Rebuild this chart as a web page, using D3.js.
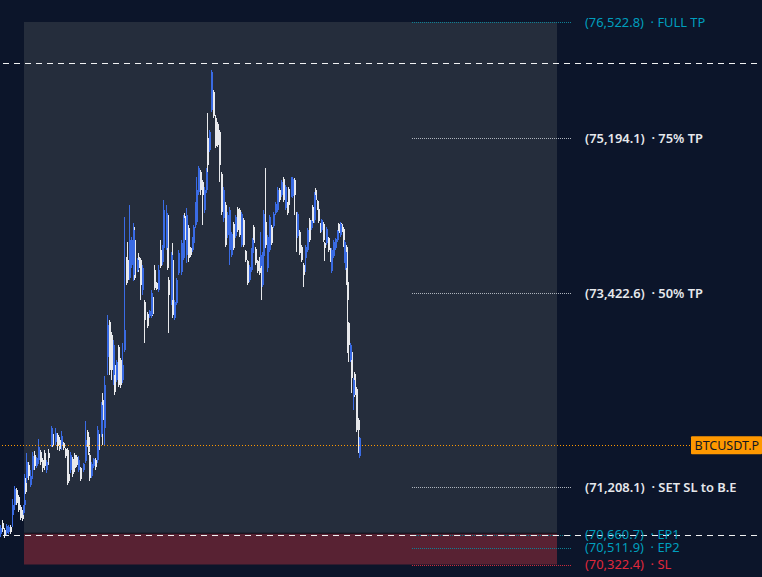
<!DOCTYPE html>
<html>
<head>
<meta charset="utf-8">
<script src="https://cdn.jsdelivr.net/npm/d3@7/dist/d3.min.js"></script>
<style>
html, body { margin: 0; padding: 0; background: #0c152a; overflow: hidden; }
#chart { width: 762px; height: 577px; }
text { font-family: "Noto Sans", sans-serif; }
</style>
</head>
<body>
<div id="chart"></div>
<script>
// minutes since the left edge of the window
var barMinute = [0,6,12,18,24,30,36,42,48,54,60,66,69,72,75,78,84,90,96,102,108,114,120,126,132,138,144,153,156,165,171,177,183,189,195,201,204,210,216,222,228,234,240,249,255,261,264,267,273,279,285,291,294,303,306,312,321,327,333,339,342,348,354,360,366,372,378,381,387,393,399,402,411,414,420,426,432,441,447,453,456,462,468,474,480,486,489,498,501,504,513,516,522,528,534,543,549,552,558,564,570,576,579,585,588,594,600,606,612,618,621,627,633,639,645,651,657,663,669,675,681,687,693,699,705,711,717,723,729,735,741,747,753,756,759,765,771,777,780,783,786,789,795,801,807,813,819,825,831,837,843,849,855,861,864,873,876,882,888,891,897,903,909,915,921,927,933,936,942,945,951,954,960,963,969,972,978,984,990,993,999,1005,1011,1014,1020,1023,1029,1032,1035,1038,1041,1044,1050,1053,1059,1062,1068,1074,1077];

var barHigh = [70769,70826,70735,70780,70769,70769,71066,71215,71192,71112,70998,70941,70998,71352,71306,71593,71490,71398,71604,71616,71547,71753,71627,71535,71627,71513,71638,71902,71833,71879,71822,71776,71845,71718,71650,71650,71364,71604,71547,71593,71570,71558,71433,71478,71959,71856,71799,71593,71490,71535,71535,71902,71833,72176,72279,72474,73171,73114,72977,72885,72634,72657,72828,72680,72851,74293,73835,74007,74430,74064,74224,74178,73823,73881,73823,73743,73343,73206,73229,73457,73400,73743,73549,73743,74029,73972,74487,74430,74338,73606,73892,73995,73343,73595,73915,74029,74315,74338,74395,74201,73949,74064,74201,74464,74750,74876,74830,74716,74636,74853,75482,75288,75974,75745,75459,75379,75288,74807,74636,74464,74350,74407,74121,74235,74315,74407,74395,74350,74281,73915,73801,73743,73938,74052,74201,73949,73801,73835,74121,73858,73892,74373,74853,74087,74315,74201,74350,74464,74636,74624,74716,74750,74659,74464,74636,74750,74750,74739,74350,74350,74144,73972,73766,73972,74167,74281,74258,74430,74579,74624,74487,74395,74224,74270,74235,74007,74178,74064,73938,73938,74029,74052,74144,74224,74235,74224,74178,74029,73915,73972,73572,73091,72851,72771,72451,72519,72348,71993,71775];

var barLow = [70632,70689,70620,70655,70666,70666,70746,70941,70998,70918,70826,70815,70883,70941,71124,71250,71284,71204,71295,71398,71421,71467,71455,71375,71398,71364,71455,71661,71661,71684,71627,71616,71627,71627,71535,71227,71250,71364,71318,71375,71433,71375,71272,71375,71478,71661,71570,71272,71306,71421,71398,71478,71593,71776,71684,71684,72485,72485,72428,72371,72256,72405,72348,72336,72394,72748,73515,73549,73572,73709,73560,73572,73663,73663,73343,73400,72851,73023,73137,73137,73160,73457,73457,73435,73709,73743,73915,73915,73686,72965,73286,73137,73114,73286,73629,73629,73801,73915,73766,73778,73835,73892,73972,74167,74201,74544,74544,74201,74338,74567,74807,75036,75494,75425,75082,75093,74693,74315,74235,73949,74052,73743,73835,73915,74052,74121,74064,73949,73949,73778,73515,73549,73663,73858,73972,73743,73652,73629,73709,73343,73492,73824,73938,73663,73892,73972,74167,74315,74350,74464,74521,74464,74373,74315,74407,74521,74510,74315,73892,74052,73858,73778,73492,73663,73892,74007,74144,74201,74224,74338,74373,74224,74110,74121,74007,73789,73972,73892,73778,73652,73824,73915,74007,74087,74064,74110,73949,73766,73686,73515,72737,72634,72634,72279,72085,72234,71833,71593,71535];

var barOpen = [70666,70792,70712,70677,70689,70746,70883,70998,71169,71089,70975,70918,70906,70998,71284,71306,71455,71227,71398,71570,71444,71513,71604,71513,71593,71398,71593,71684,71810,71718,71799,71741,71673,71707,71638,71627,71352,71398,71524,71570,71547,71398,71421,71398,71501,71833,71776,71570,71329,71444,71513,71513,71810,71810,72199,71879,72691,73091,72943,72485,72599,72428,72805,72657,72428,72771,73778,73801,73595,73743,73629,74029,73686,73835,73801,73457,73320,73183,73160,73171,73377,73686,73537,73457,73915,73778,73938,73938,74315,73572,73343,73801,73137,73309,73652,73663,73824,74304,73858,74167,73938,73915,73995,74201,74235,74578,74807,74693,74373,74601,75196,75059,75517,75722,75425,75356,75265,74784,74281,74430,74087,73915,73858,74212,74075,74384,74373,73972,74258,73904,73789,73572,73686,73881,74178,73926,73789,73812,73732,73835,73515,73847,74235,73709,73915,74178,74190,74338,74373,74601,74544,74727,74395,74453,74613,74544,74533,74716,74327,74075,74121,73949,73743,73824,73915,74258,74167,74407,74258,74601,74476,74384,74212,74144,74212,73995,73995,74052,73926,73675,73847,73938,74029,74212,74087,74212,74155,73789,73709,73949,73549,73080,72657,72748,72256,72497,72325,71970,71558];

var barClose = [70735,70723,70643,70758,70746,70689,70998,71181,71021,70941,70849,70838,70975,71055,71147,71490,71329,71329,71558,71444,71535,71661,71490,71421,71444,71490,71535,71879,71684,71822,71673,71638,71787,71650,71558,71261,71272,71570,71352,71421,71455,71513,71295,71467,71741,71684,71604,71306,71467,71524,71433,71856,71627,72142,71970,72371,73057,72542,72542,72828,72291,72634,72371,72371,72599,73000,73538,73572,74029,74029,74144,73595,73801,73709,73515,73709,73114,73046,73217,73423,73183,73480,73469,73686,73732,73949,74373,74338,73709,73400,73858,73171,73320,73572,73881,73995,74281,74029,74315,73824,73858,74041,74178,74430,74601,74853,74601,74544,74601,74807,74887,75265,75951,75448,75105,75116,74887,74350,74601,73972,74315,74373,74098,73938,74293,74144,74087,74327,73972,73801,73538,73720,73915,74029,73995,73766,73675,73652,73858,73515,73869,74327,73972,74064,74293,73995,74327,74441,74601,74487,74693,74487,74636,74338,74430,74727,74727,74544,74121,74327,73881,73801,73629,73949,74144,74029,74247,74224,74544,74487,74384,74247,74121,74258,74029,73938,74155,73915,73858,73915,74007,74041,74132,74110,74212,74121,73972,74007,73892,73538,73343,72828,72828,72451,72428,72256,71856,71856,71764];

// trade levels on the right
var levelPrices = [76522.8, 75194.1, 73422.6, 71208.1, 70660.7, 70511.9, 70322.4];
var levelNames = ["FULL TP", "75% TP", "50% TP", "SET SL to B.E", "EP1", "EP2", "SL"];
var levelKinds = ["tp", "mid", "mid", "mid", "tp", "tp", "sl"];

var upperDashPrice = 76054;
var lastPrice = 71684;
var ticker = "BTCUSDT.P";

var width = 762;
var height = 577;

var kindColor = { tp: "#009ebd", mid: "#e6e8ec", sl: "#e0283c" };
var lineColor = { tp: "#0e7f94", mid: "#aeb4bd", sl: "#c92a3c" };

var svg = d3.select("#chart")
    .append("svg")
    .attr("width", width)
    .attr("height", height)
    .style("display", "block");

var x = d3.scaleLinear().domain([0, 2286]).range([0, width]);
var y = d3.scaleLinear().domain([70322.4, 76522.8]).range([564.5, 22]);

svg.append("rect")
    .attr("width", width)
    .attr("height", height)
    .attr("fill", "#0c152a");

// position boxes
svg.append("rect")
    .attr("x", x(72))
    .attr("y", y(76522.8))
    .attr("width", x(1671) - x(72))
    .attr("height", y(70680) - y(76522.8))
    .attr("fill", "#252d3c");

svg.append("rect")
    .attr("x", x(72))
    .attr("y", y(70680))
    .attr("width", x(1671) - x(72))
    .attr("height", y(70322.4) - y(70680))
    .attr("fill", "#582233");

svg.append("line")
    .attr("x1", x(72))
    .attr("x2", x(1671))
    .attr("y1", y(70680))
    .attr("y2", y(70680))
    .attr("stroke", "#0d0f18")
    .attr("stroke-width", 1);

// candles
var candle = svg.append("g")
    .attr("shape-rendering", "crispEdges")
    .selectAll("g")
    .data(barMinute)
    .enter()
    .append("g");

function isUp(i) {
    return barClose[i] >= barOpen[i];
}

function barColor(i) {
    return isUp(i) ? "#3a6be4" : "#e8e9ec";
}

candle.append("rect")
    .attr("x", function(d) { return Math.round(x(d)); })
    .attr("width", 1)
    .attr("y", function(d, i) { return y(barHigh[i]); })
    .attr("height", function(d, i) { return y(barLow[i]) - y(barHigh[i]); })
    .attr("fill", function(d, i) { return barColor(i); });

candle.append("rect")
    .attr("x", function(d) { return Math.round(x(d)); })
    .attr("width", 2)
    .attr("y", function(d, i) { return y(Math.max(barOpen[i], barClose[i])); })
    .attr("height", function(d, i) { return Math.abs(y(barOpen[i]) - y(barClose[i])); })
    .attr("fill", function(d, i) { return barColor(i); });

// blue bars sit on top of the white ones, the white ones show through as slivers
candle.filter(function(d, i) { return isUp(i); }).raise();

// last price line
svg.append("line")
    .attr("x1", x(6))
    .attr("x2", x(2073))
    .attr("y1", Math.round(y(lastPrice)) + 0.5)
    .attr("y2", Math.round(y(lastPrice)) + 0.5)
    .attr("stroke", "#ff9800")
    .attr("stroke-width", 1)
    .attr("stroke-dasharray", "1 2");

// level lines
svg.append("g")
    .selectAll("line")
    .data(levelPrices)
    .enter()
    .append("line")
    .attr("x1", x(1236))
    .attr("x2", x(1716))
    .attr("y1", function(d) { return Math.round(y(d)) + 0.5; })
    .attr("y2", function(d) { return Math.round(y(d)) + 0.5; })
    .attr("stroke", function(d, i) { return lineColor[levelKinds[i]]; })
    .attr("stroke-width", 1)
    .attr("stroke-dasharray", "1 1");

// dashed white guides
[upperDashPrice, levelPrices[4]].forEach(function(p) {
    svg.append("line")
        .attr("x1", x(9))
        .attr("x2", width)
        .attr("y1", Math.round(y(p)) + 0.5)
        .attr("y2", Math.round(y(p)) + 0.5)
        .attr("stroke", "#f0f1f3")
        .attr("stroke-width", 1)
        .attr("stroke-dasharray", "6 5");
});

// level labels
var fmt = d3.format(",.1f");

svg.append("g")
    .selectAll("text")
    .data(levelPrices)
    .enter()
    .append("text")
    .attr("x", 585)
    .attr("y", function(d) { return y(d) + 4.5; })
    .attr("fill", function(d, i) { return kindColor[levelKinds[i]]; })
    .attr("font-size", 12.9)
    .attr("font-weight", function(d, i) { return levelKinds[i] === "mid" ? 600 : 400; })
    .text(function(d, i) { return "(" + fmt(d) + ")  \u00b7 " + levelNames[i]; })
    .attr("xml:space", "preserve");

// ticker tag
svg.append("rect")
    .attr("x", 691)
    .attr("y", y(lastPrice) - 9)
    .attr("width", 71)
    .attr("height", 18)
    .attr("rx", 1)
    .attr("fill", "#ff9800");

svg.append("text")
    .attr("x", 694.5)
    .attr("y", y(lastPrice) + 4.5)
    .attr("fill", "#131722")
    .attr("font-size", 12.5)
    .text(ticker);
</script>
</body>
</html>
